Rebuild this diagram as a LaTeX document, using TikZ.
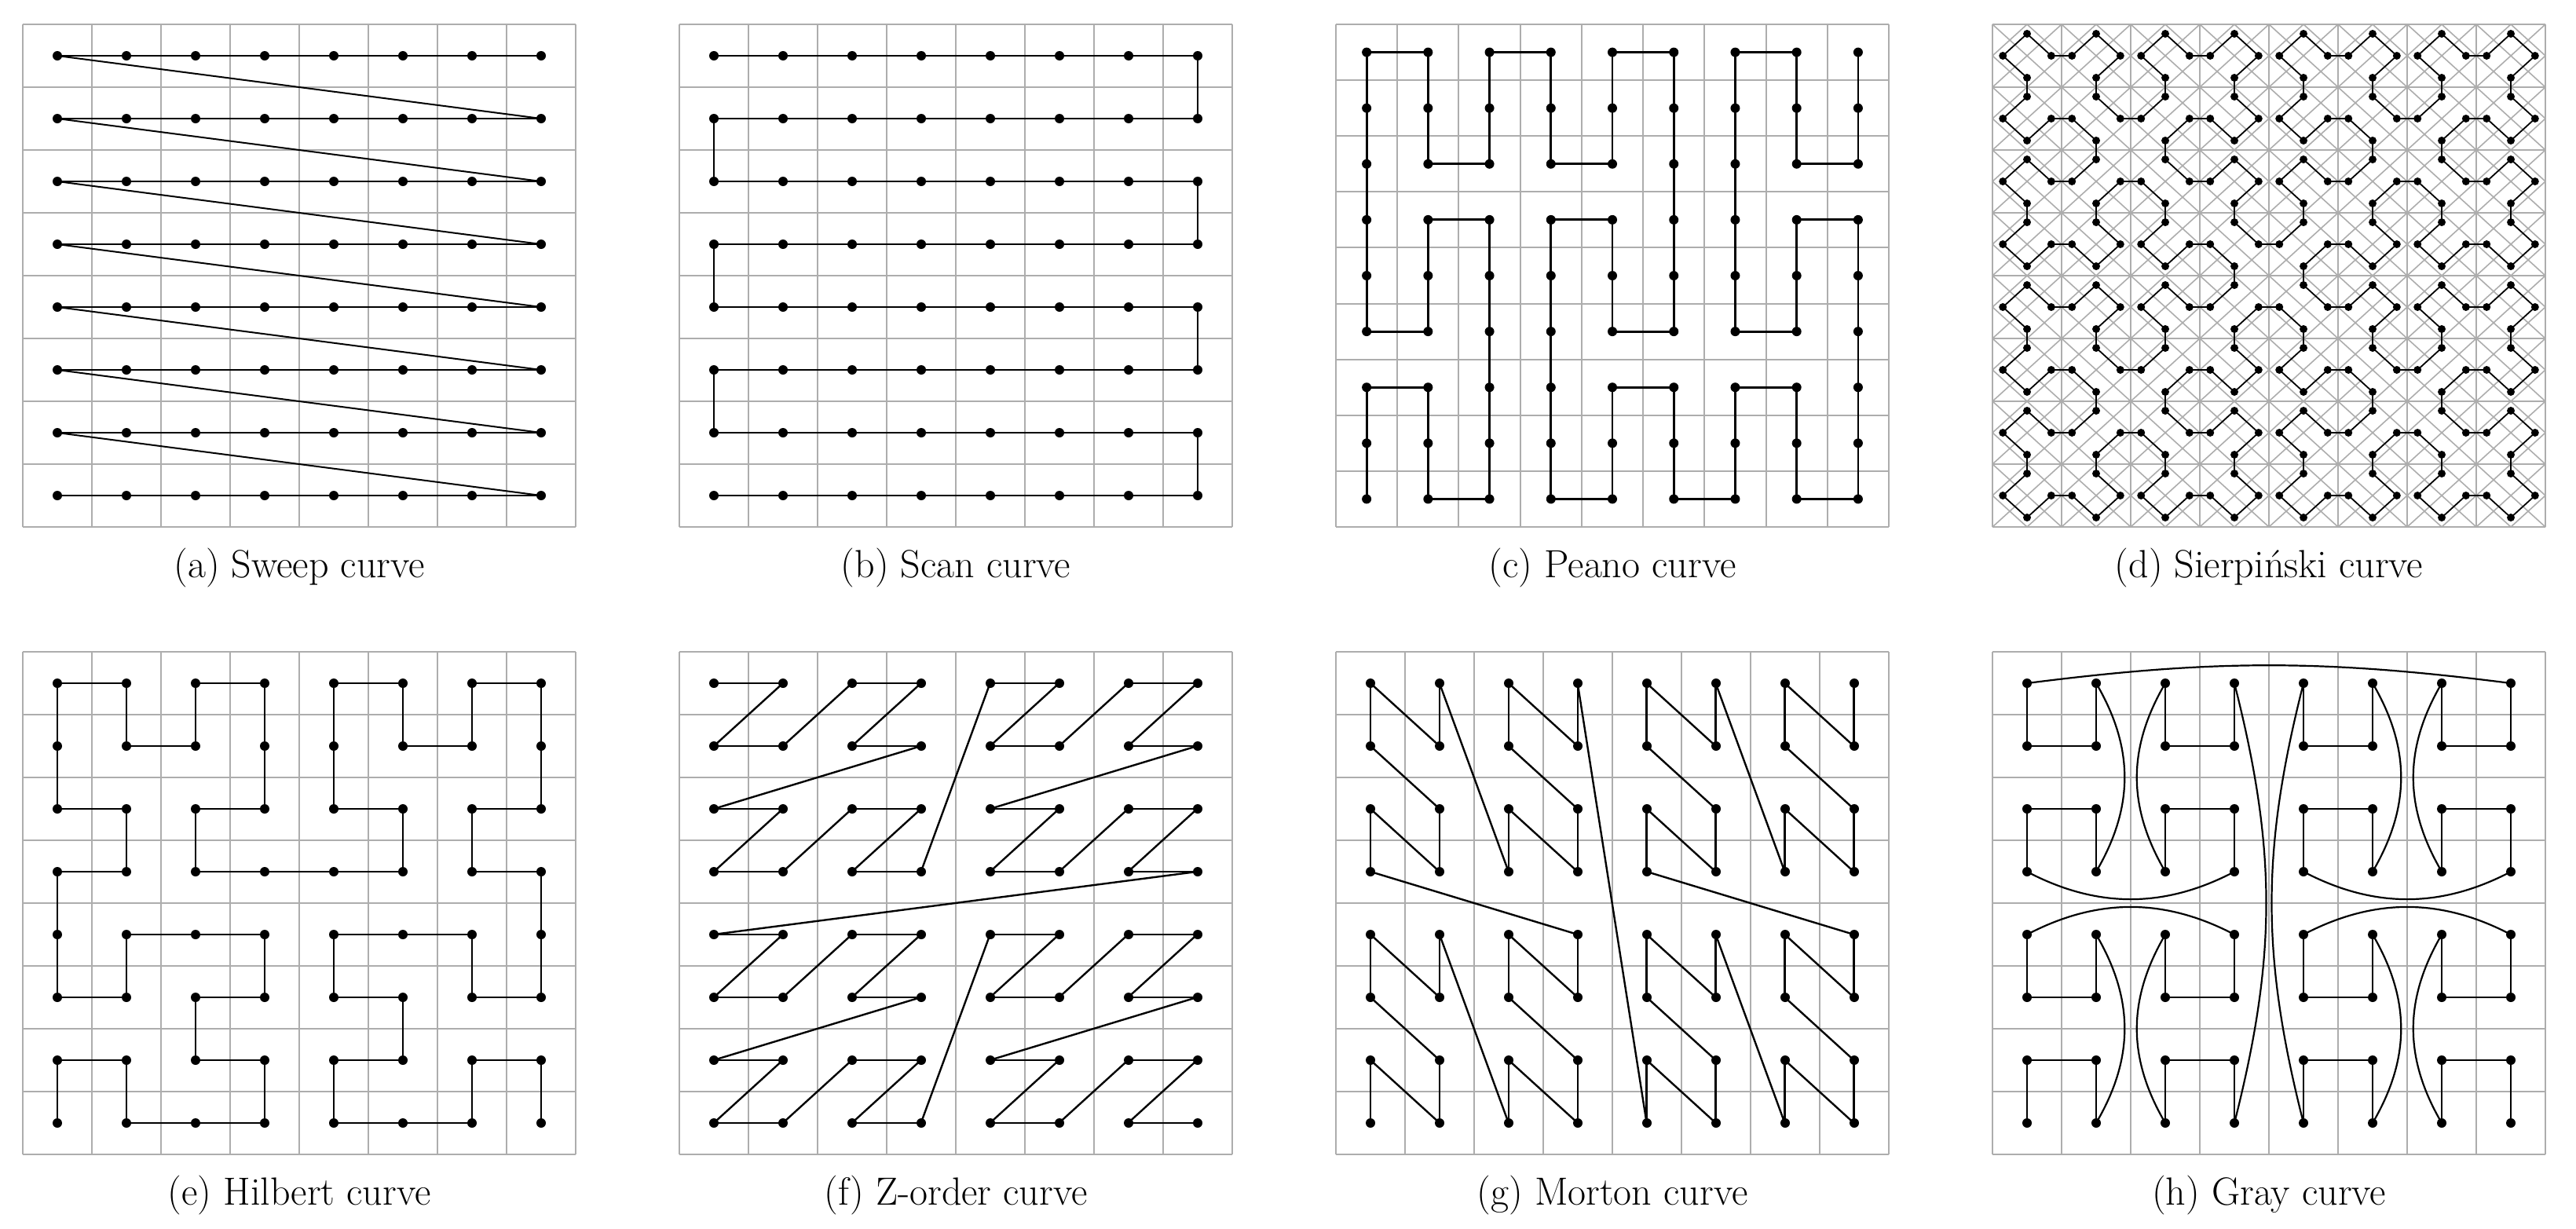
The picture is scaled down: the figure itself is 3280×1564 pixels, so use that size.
\documentclass[tikz,border=0pt]{standalone}
\usepackage{fontspec}
\newcommand\sierpStep[7]{%
  \ifnum#1=0
    \pgfmathsetmacro\spx{#2+0.7*((#4+#6)/2-#2)}%
    \pgfmathsetmacro\spy{#3+0.7*((#5+#7)/2-#3)}%
    \xdef\sierpPath{\sierpPath (\spx,\spy) -- }%
    \xdef\sierpDots{\sierpDots (\spx,\spy) node[sdot] {} }%
  \else
    \begingroup
    \pgfmathsetmacro\smx{(#4+#6)/2}\pgfmathsetmacro\smy{(#5+#7)/2}%
    \pgfmathtruncatemacro\sdd{#1-1}%
    \edef\snext{\noexpand\sierpStep{\sdd}{\smx}{\smy}{#4}{#5}{#2}{#3}\noexpand\sierpStep{\sdd}{\smx}{\smy}{#2}{#3}{#6}{#7}}%
    \expandafter\endgroup\snext
  \fi}
\begin{document}
\begin{tikzpicture}[x=0.5pt,y=-0.5pt,
  gridline/.style={draw=black!32,line width=1pt},
  curve/.style={draw=black,line width=1.4pt},
  scurve/.style={draw=black,line width=0.9pt},
  dot/.style={circle,fill=black,inner sep=0pt,minimum size=6pt},
  sdot/.style={circle,fill=black,inner sep=0pt,minimum size=5pt},
  captxt/.style={font=\fontsize{25}{30}\selectfont}]
\useasboundingbox (0,0) rectangle (3280,1564);
\def\gridlines#1{\foreach \i in {0,...,#1}{\draw[gridline] (\i,0) -- (\i,#1); \draw[gridline] (0,\i) -- (#1,\i);}}
\def\alldots#1{\foreach \i in {1,...,#1}{\foreach \j in {1,...,#1}{\node[dot] at (\i-0.5,\j-0.5) {};}}}
% (a) Sweep
\begin{scope}[shift={(29,31)},xscale=88,yscale=80]
\gridlines{8}
\begin{scope}[shift={(0.5,0.5)}]
\foreach \r in {0,...,7}{\draw[curve] (0,\r) -- (7,\r);}
\foreach \r [evaluate=\r as \rn using \r+1] in {0,...,6}{\draw[curve,line width=1pt] (0,\r) -- (7,\rn);}
\end{scope}
\alldots{8}
\end{scope}
\node[captxt] (ca) at (381,723) {(a) Sweep curve};
% (b) Scan
\begin{scope}[shift={(865,31)},xscale=88,yscale=80]
\gridlines{8}
\begin{scope}[shift={(0.5,0.5)}]
\foreach \r in {0,...,7}{\draw[curve] (0,\r) -- (7,\r);}
\foreach \r in {0,2,4,6}{\draw[curve] (7,\r) -- (7,\r+1);}
\foreach \r in {1,3,5}{\draw[curve] (0,\r) -- (0,\r+1);}
\end{scope}
\alldots{8}
\end{scope}
\node[captxt] (cb) at (1217,723) {(b) Scan curve};
% (c) Peano
\begin{scope}[shift={(1701,31)},xscale=704/9,yscale=640/9]
\gridlines{9}
\begin{scope}[shift={(0.5,0.5)}]
\draw[curve] (0,8) -- (0,6) -- (1,6) -- (1,8) -- (2,8) -- (2,3) -- (1,3) -- (1,5) -- (0,5) -- (0,0) -- (1,0) -- (1,2) -- (2,2) -- (2,0) -- (3,0) -- (3,2) -- (4,2) -- (4,0) -- (5,0) -- (5,5) -- (4,5) -- (4,3) -- (3,3) -- (3,8) -- (4,8) -- (4,6) -- (5,6) -- (5,8) -- (6,8) -- (6,6) -- (7,6) -- (7,8) -- (8,8) -- (8,3) -- (7,3) -- (7,5) -- (6,5) -- (6,0) -- (7,0) -- (7,2) -- (8,2) -- (8,0);
\end{scope}
\alldots{9}
\end{scope}
\node[captxt] (cc) at (2053,723) {(c) Peano curve};
% (d) Sierpinski
\begin{scope}[shift={(2537,31)},xscale=88,yscale=80]
\begin{scope}
\clip (0,0) rectangle (8,8);
\foreach \m in {-16,...,16}{\draw[gridline,line width=0.8pt] (\m/2-1,-1) -- (\m/2+9,9);}
\foreach \m in {0,...,32}{\draw[gridline,line width=0.8pt] (\m/2+1,-1) -- (\m/2-9,9);}
\end{scope}
\gridlines{8}
\gdef\sierpPath{}\gdef\sierpDots{}
\sierpStep{7}{0}{8}{0}{0}{8}{8}\sierpStep{7}{8}{0}{8}{8}{0}{0}
\edef\tmpdraw{\noexpand\draw[scurve] \sierpPath cycle;}\tmpdraw
\edef\tmpdots{\noexpand\path \sierpDots;}\tmpdots
\end{scope}
\node[captxt] (cd) at (2889,723) {(d) Sierpiński curve};
% (e) Hilbert
\begin{scope}[shift={(29,830)},xscale=88,yscale=80]
\gridlines{8}
\begin{scope}[shift={(0.5,0.5)}]
\draw[curve] (0,7) -- (0,6) -- (1,6) -- (1,7) -- (3,7) -- (3,6) -- (2,6) -- (2,5) -- (3,5) -- (3,4) -- (1,4) -- (1,5) -- (0,5) -- (0,3) -- (1,3) -- (1,2) -- (0,2) -- (0,0) -- (1,0) -- (1,1) -- (2,1) -- (2,0) -- (3,0) -- (3,2) -- (2,2) -- (2,3) -- (5,3) -- (5,2) -- (4,2) -- (4,0) -- (5,0) -- (5,1) -- (6,1) -- (6,0) -- (7,0) -- (7,2) -- (6,2) -- (6,3) -- (7,3) -- (7,5) -- (6,5) -- (6,4) -- (4,4) -- (4,5) -- (5,5) -- (5,6) -- (4,6) -- (4,7) -- (6,7) -- (6,6) -- (7,6) -- (7,7);
\end{scope}
\alldots{8}
\end{scope}
\node[captxt] (ce) at (381,1522) {(e) Hilbert curve};
% (f) Z-order
\begin{scope}[shift={(865,830)},xscale=88,yscale=80]
\gridlines{8}
\foreach \k in {0,...,63}{
 \pgfmathtruncatemacro\zx{mod(\k,2)+2*mod(int(\k/4),2)+4*mod(int(\k/16),2)}
 \pgfmathtruncatemacro\zy{mod(int(\k/2),2)+2*mod(int(\k/8),2)+4*mod(int(\k/32),2)}
 \coordinate (zf\k) at (\zx+0.5,\zy+0.5);}
\foreach \k [remember=\k as \lk (initially 0)] in {1,...,63}{\draw[curve,line width=1.2pt] (zf\lk) -- (zf\k);}
\alldots{8}
\end{scope}
\node[captxt] (cf) at (1217,1522) {(f) Z-order curve};
% (g) Morton
\begin{scope}[shift={(1701,830)},xscale=88,yscale=80]
\gridlines{8}
\foreach \k in {0,...,63}{
 \pgfmathtruncatemacro\zx{mod(int(\k/2),2)+2*mod(int(\k/8),2)+4*mod(int(\k/32),2)}
 \pgfmathtruncatemacro\zy{7-(mod(\k,2)+2*mod(int(\k/4),2)+4*mod(int(\k/16),2))}
 \coordinate (zg\k) at (\zx+0.5,\zy+0.5);}
\foreach \k [remember=\k as \lk (initially 0)] in {1,...,63}{\draw[curve,line width=1.2pt] (zg\lk) -- (zg\k);}
\alldots{8}
\end{scope}
\node[captxt] (cg) at (2053,1522) {(g) Morton curve};
% (h) Gray
\begin{scope}[shift={(2537,830)},xscale=88,yscale=80]
\gridlines{8}
\begin{scope}[shift={(0.5,0.5)}]
\foreach \c in {0,2,4,6}{
  \draw[curve] (\c,0) -- (\c,1) -- (\c+1,1) -- (\c+1,0);
  \draw[curve] (\c,3) -- (\c,2) -- (\c+1,2) -- (\c+1,3);
  \draw[curve] (\c,4) -- (\c,5) -- (\c+1,5) -- (\c+1,4);
  \draw[curve] (\c,7) -- (\c,6) -- (\c+1,6) -- (\c+1,7);}
\draw[curve,line width=1.1pt] (0,0) to[bend left=8] (7,0);
\foreach \c in {1,5}{
  \draw[curve,line width=1.1pt] (\c,0) to[bend left=28] (\c,3);
  \draw[curve,line width=1.1pt] (\c+1,0) to[bend right=28] (\c+1,3);
  \draw[curve,line width=1.1pt] (\c,4) to[bend left=28] (\c,7);
  \draw[curve,line width=1.1pt] (\c+1,4) to[bend right=28] (\c+1,7);}
\draw[curve,line width=1.1pt] (3,0) to[bend left=13] (3,7);
\draw[curve,line width=1.1pt] (4,0) to[bend right=13] (4,7);
\foreach \c in {0,4}{
  \draw[curve,line width=1.1pt] (\c,3) to[bend right=30] (\c+3,3);
  \draw[curve,line width=1.1pt] (\c,4) to[bend left=30] (\c+3,4);}
\end{scope}
\alldots{8}
\end{scope}
\node[captxt] (ch) at (2889,1522) {(h) Gray curve};
\end{tikzpicture}
\end{document}
